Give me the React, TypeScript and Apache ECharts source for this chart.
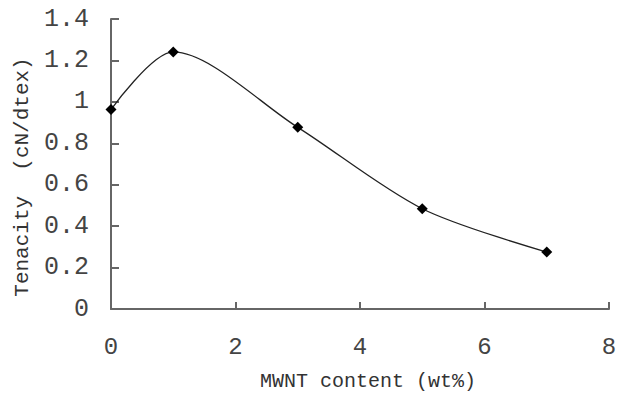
import React, { useEffect, useRef } from "react";
import * as echarts from "echarts";

const mwntContent = [0, 1, 3, 5, 7];
const tenacity = [0.963, 1.241, 0.877, 0.484, 0.275];

export default function App() {
  const ref = useRef<HTMLDivElement>(null);
  useEffect(() => {
    if (!ref.current) return;
    const chart = echarts.init(ref.current, null, { renderer: "svg" });
    const font = "Liberation Mono";
    chart.setOption({
      animation: false,
      backgroundColor: "#ffffff",
      grid: { left: 111, right: 31, top: 19, bottom: 80, containLabel: false },
      xAxis: {
        type: "value",
        min: 0,
        max: 8,
        interval: 2,
        name: "MWNT content (wt%)",
        nameLocation: "middle",
        nameGap: 62,
        nameTextStyle: { fontFamily: font, fontSize: 20, color: "#333", padding: [0, 0, 0, 16] },
        axisLine: { show: true, lineStyle: { color: "#666", width: 2 } },
        axisTick: { show: true, inside: true, length: 7, lineStyle: { color: "#666", width: 2 } },
        axisLabel: { fontFamily: font, fontSize: 24, color: "#444", margin: 26 },
        splitLine: { show: false },
      },
      yAxis: {
        type: "value",
        min: 0,
        max: 1.4,
        interval: 0.2,
        name: "Tenacity  (cN/dtex)",
        nameLocation: "middle",
        nameGap: 76,
        nameTextStyle: { fontFamily: font, fontSize: 21, color: "#333", padding: [0, 26, 0, 0] },
        axisLine: { show: true, lineStyle: { color: "#666", width: 2 } },
        axisTick: { show: true, inside: true, length: 8, lineStyle: { color: "#666", width: 2 } },
        axisLabel: { fontFamily: font, fontSize: 25, color: "#444", margin: 22 },
        splitLine: { show: false },
      },
      series: [
        {
          type: "line",
          data: mwntContent.map((x, i) => [x, tenacity[i]]),
          smooth: 0.3,
          symbol: "diamond",
          symbolSize: 11,
          itemStyle: { color: "#000" },
          lineStyle: { color: "#222", width: 1.3 },
        },
      ],
    });
    return () => chart.dispose();
  }, []);
  return (
    <div
      ref={ref}
      style={{ position: "fixed", left: 0, top: 0, width: 640, height: 396 }}
    />
  );
}
